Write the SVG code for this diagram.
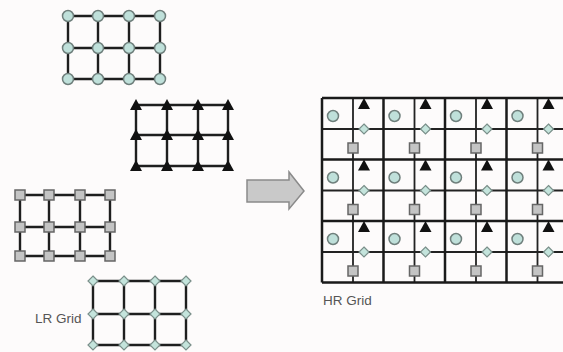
<svg xmlns="http://www.w3.org/2000/svg" width="563" height="352" viewBox="0 0 563 352">
<defs>
<style>
.ln{stroke:#1e1e1e;stroke-width:2.4;fill:none}
.thk{stroke:#1a1a1a;stroke-width:2.5;fill:none}
.thn{stroke:#222;stroke-width:1.8;fill:none}
.cir{fill:#bfe0da;stroke:#6f7f7c;stroke-width:1.5}
.sq{fill:#c4c4c4;stroke:#666;stroke-width:1.5}
.dia{fill:#c4e4dc;stroke:#7a8f8a;stroke-width:1.2}
.tri{fill:#111}
.lbl{font-family:"Liberation Sans",Arial,sans-serif;font-size:13.5px;fill:#555}
</style>
<circle id="c" r="5.5" class="cir"/>
<rect id="s" x="-5" y="-5" width="10" height="10" class="sq"/>
<path id="d" d="M0,-5 L5,0 L0,5 L-5,0 Z" class="dia"/>
<path id="t" d="M0,-6 L6,5 L-6,5 Z" class="tri"/>
</defs>
<rect width="563" height="352" fill="#fdfbfb"/>

<g id="connectors">
<path class="ln" d="M68,16H160M68,48H160M68,79H160M68,16V79M98,16V79M129,16V79M160,16V79"/>
<path class="ln" d="M136,105H228M136,135H228M136,166H228M136,105V166M167,105V166M198,105V166M228,105V166"/>
<path class="ln" d="M20,195H110M20,227H110M20,256H110M20,195V256M49,195V256M80,195V256M110,195V256"/>
<path class="ln" d="M93,281H186M93,314H186M93,345H186M93,281V345M124,281V345M155,281V345M186,281V345"/>
</g>

<g id="lr-circle-grid">
<use href="#c" x="68" y="16"/><use href="#c" x="98" y="16"/><use href="#c" x="129" y="16"/><use href="#c" x="160" y="16"/>
<use href="#c" x="68" y="48"/><use href="#c" x="98" y="48"/><use href="#c" x="129" y="48"/><use href="#c" x="160" y="48"/>
<use href="#c" x="68" y="79"/><use href="#c" x="98" y="79"/><use href="#c" x="129" y="79"/><use href="#c" x="160" y="79"/>
</g>
<g id="lr-triangle-grid">
<use href="#t" x="136" y="105"/><use href="#t" x="167" y="105"/><use href="#t" x="198" y="105"/><use href="#t" x="228" y="105"/>
<use href="#t" x="136" y="135"/><use href="#t" x="167" y="135"/><use href="#t" x="198" y="135"/><use href="#t" x="228" y="135"/>
<use href="#t" x="136" y="166"/><use href="#t" x="167" y="166"/><use href="#t" x="198" y="166"/><use href="#t" x="228" y="166"/>
</g>
<g id="lr-square-grid">
<use href="#s" x="20" y="195"/><use href="#s" x="49" y="195"/><use href="#s" x="80" y="195"/><use href="#s" x="110" y="195"/>
<use href="#s" x="20" y="227"/><use href="#s" x="49" y="227"/><use href="#s" x="80" y="227"/><use href="#s" x="110" y="227"/>
<use href="#s" x="20" y="256"/><use href="#s" x="49" y="256"/><use href="#s" x="80" y="256"/><use href="#s" x="110" y="256"/>
</g>
<g id="lr-diamond-grid">
<use href="#d" x="93" y="281"/><use href="#d" x="124" y="281"/><use href="#d" x="155" y="281"/><use href="#d" x="186" y="281"/>
<use href="#d" x="93" y="314"/><use href="#d" x="124" y="314"/><use href="#d" x="155" y="314"/><use href="#d" x="186" y="314"/>
<use href="#d" x="93" y="345"/><use href="#d" x="124" y="345"/><use href="#d" x="155" y="345"/><use href="#d" x="186" y="345"/>
</g>

<g id="lr-label"><text class="lbl" x="35" y="323">LR Grid</text></g>

<g id="arrow">
<path d="M247,180 H289 V172 L304,191 L289,209 V202 H247 Z" fill="#c9c9c9" stroke="#8a8a8a" stroke-width="1.5"/>
</g>

<g id="hr-grid">
<path class="thn" d="M322,129H563M322,190.5H563M322,252H563M353,98V282.5M414.5,98V282.5M476,98V282.5M537.5,98V282.5"/>
<path class="thk" d="M322,98H563M322,159.5H563M322,221H563M322,282.5H563M322,98V282.5M383.5,98V282.5M445,98V282.5M506.5,98V282.5"/>
<g id="hr-cells">
<g transform="translate(322,98)"><use href="#c" x="11" y="18"/><use href="#t" x="42" y="6"/><use href="#d" x="42" y="31"/><use href="#s" x="31" y="50"/></g>
<g transform="translate(383.5,98)"><use href="#c" x="11" y="18"/><use href="#t" x="42" y="6"/><use href="#d" x="42" y="31"/><use href="#s" x="31" y="50"/></g>
<g transform="translate(445,98)"><use href="#c" x="11" y="18"/><use href="#t" x="42" y="6"/><use href="#d" x="42" y="31"/><use href="#s" x="31" y="50"/></g>
<g transform="translate(506.5,98)"><use href="#c" x="11" y="18"/><use href="#t" x="42" y="6"/><use href="#d" x="42" y="31"/><use href="#s" x="31" y="50"/></g>
<g transform="translate(322,159.5)"><use href="#c" x="11" y="18"/><use href="#t" x="42" y="6"/><use href="#d" x="42" y="31"/><use href="#s" x="31" y="50"/></g>
<g transform="translate(383.5,159.5)"><use href="#c" x="11" y="18"/><use href="#t" x="42" y="6"/><use href="#d" x="42" y="31"/><use href="#s" x="31" y="50"/></g>
<g transform="translate(445,159.5)"><use href="#c" x="11" y="18"/><use href="#t" x="42" y="6"/><use href="#d" x="42" y="31"/><use href="#s" x="31" y="50"/></g>
<g transform="translate(506.5,159.5)"><use href="#c" x="11" y="18"/><use href="#t" x="42" y="6"/><use href="#d" x="42" y="31"/><use href="#s" x="31" y="50"/></g>
<g transform="translate(322,221)"><use href="#c" x="11" y="18"/><use href="#t" x="42" y="6"/><use href="#d" x="42" y="31"/><use href="#s" x="31" y="50"/></g>
<g transform="translate(383.5,221)"><use href="#c" x="11" y="18"/><use href="#t" x="42" y="6"/><use href="#d" x="42" y="31"/><use href="#s" x="31" y="50"/></g>
<g transform="translate(445,221)"><use href="#c" x="11" y="18"/><use href="#t" x="42" y="6"/><use href="#d" x="42" y="31"/><use href="#s" x="31" y="50"/></g>
<g transform="translate(506.5,221)"><use href="#c" x="11" y="18"/><use href="#t" x="42" y="6"/><use href="#d" x="42" y="31"/><use href="#s" x="31" y="50"/></g>
</g>
</g>

<g id="hr-label"><text class="lbl" x="323" y="305">HR Grid</text></g>
</svg>
